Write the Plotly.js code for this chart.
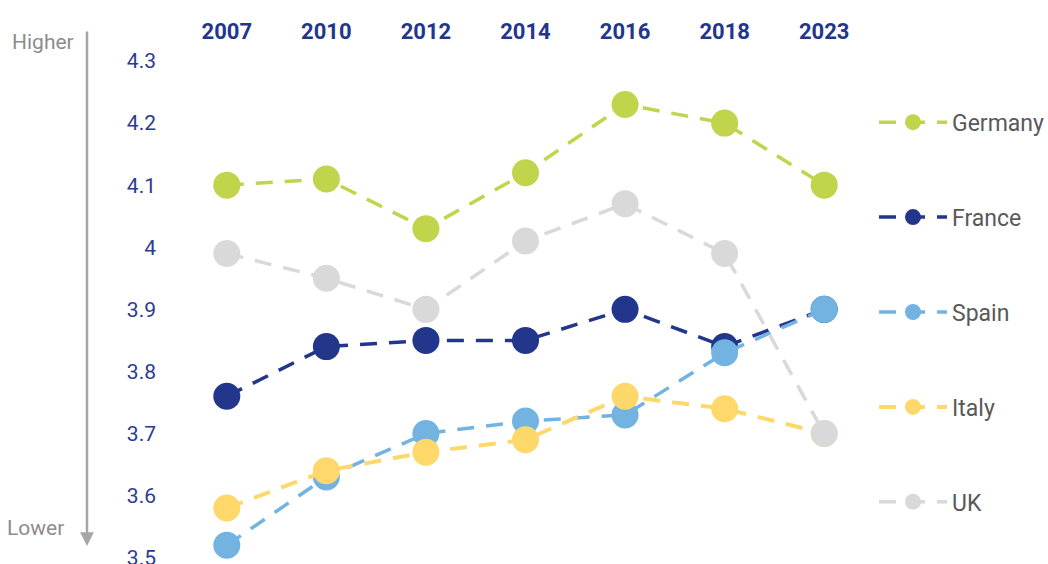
<!DOCTYPE html>
<html>
<head>
<meta charset="utf-8">
<script src="https://cdn.plot.ly/plotly-3.0.1.min.js"></script>
<style>html,body{margin:0;padding:0;background:#fff;}#chart{width:1048px;height:564px;}</style>
</head>
<body>
<div id="chart"></div>
<script>
const years = ["2007", "2010", "2012", "2014", "2016", "2018", "2023"];
const germany = [4.10, 4.11, 4.03, 4.12, 4.23, 4.20, 4.10];
const france  = [3.76, 3.84, 3.85, 3.85, 3.90, 3.84, 3.90];
const spain   = [3.52, 3.63, 3.70, 3.72, 3.73, 3.83, 3.90];
const italy   = [3.58, 3.64, 3.67, 3.69, 3.76, 3.74, 3.70];
const uk      = [3.99, 3.95, 3.90, 4.01, 4.07, 3.99, 3.70];
const yTicks  = [3.5, 3.6, 3.7, 3.8, 3.9, 4.0, 4.1, 4.2, 4.3];
const yTickText = ["3.5", "3.6", "3.7", "3.8", "3.9", "4", "4.1", "4.2", "4.3"];

function tr(name, vals, color, width, group) {
  return {
    type: 'scatter', mode: 'lines+markers', name: name, x: years, y: vals,
    legendgroup: group,
    line: {color: color, width: width, dash: '17px,12px'},
    marker: {color: color, size: 27},
    cliponaxis: false, hoverinfo: 'skip'
  };
}
const data = [
  tr('Germany', germany, '#c2d34c', 3.5, 'g1'),
  tr('France', france, '#22368c', 3.5, 'g2'),
  tr('Spain', spain, '#72b3e2', 3.5, 'g3'),
  tr('Italy', italy, '#ffd86b', 4, 'g4'),
  tr('UK', uk, '#d9d9d9', 3.5, 'g5')
];
const layout = {
  width: 1048, height: 564,
  margin: {l: 177, r: 174, t: 61, b: 6, autoexpand: false},
  paper_bgcolor: '#fff', plot_bgcolor: '#fff',
  font: {family: 'Roboto, sans-serif'},
  showlegend: true,
  xaxis: {
    type: 'category', side: 'top', range: [-0.5, 6.5],
    showgrid: false, zeroline: false, showline: false, ticks: '',
    tickfont: {size: 22, color: '#22368c', weight: 700},
    ticklabelstandoff: 17, fixedrange: true
  },
  yaxis: {
    range: [3.4995, 4.3], tickvals: yTicks, ticktext: yTickText,
    showgrid: false, zeroline: false, showline: false, ticks: '',
    tickfont: {size: 21, color: '#2b3b93'},
    ticklabelstandoff: 20, ticklabeloverflow: 'allow', fixedrange: true
  },
  legend: {
    x: 1.0, xanchor: 'left', y: 0.92, yanchor: 'top',
    font: {size: 23, color: '#595959'},
    tracegroupgap: 62, itemwidth: 68,
    bgcolor: 'rgba(0,0,0,0)'
  },
  annotations: [
    {xref: 'paper', yref: 'paper', x: (87 - 177) / 697, y: (558 - 546) / 497,
     ax: 0, ay: -516, axref: 'pixel', ayref: 'pixel',
     showarrow: true, arrowhead: 2, arrowsize: 1.1, arrowwidth: 2.5, arrowcolor: '#a6a6a6', text: ''},
    {xref: 'paper', yref: 'paper', x: (76 - 177) / 697, y: (558 - 42) / 497,
     xanchor: 'right', yanchor: 'middle', showarrow: false, text: 'Higher',
     font: {size: 21, color: '#8c8c8c'}},
    {xref: 'paper', yref: 'paper', x: (66 - 177) / 697, y: (558 - 528) / 497,
     xanchor: 'right', yanchor: 'middle', showarrow: false, text: 'Lower',
     font: {size: 21, color: '#8c8c8c'}}
  ]
};
Plotly.newPlot('chart', data, layout, {displayModeBar: false, staticPlot: true});
</script>
</body>
</html>
